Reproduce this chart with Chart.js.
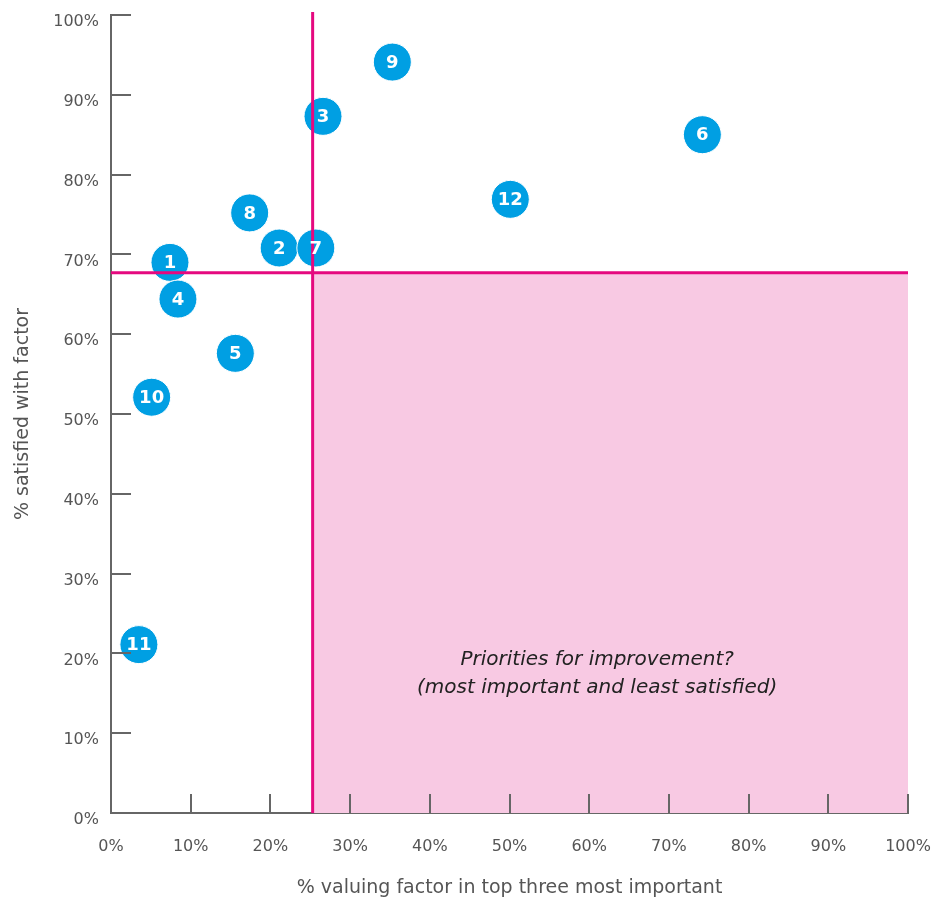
<!DOCTYPE html>
<html>
<head>
<meta charset="utf-8">
<script src="https://cdn.jsdelivr.net/npm/chart.js@4"></script>
<style>
  html, body { margin: 0; padding: 0; background: #fff; overflow: hidden; }
  #wrap { width: 935px; height: 904px; margin-top: -5px; }
</style>
</head>
<body>
<div id="wrap"><canvas id="chart" width="935" height="904"></canvas></div>
<script>
// factor id, % valuing factor in top three, % satisfied with factor
const factorIds = ['1', '2', '3', '4', '5', '6', '7', '8', '9', '10', '11', '12'];
const importance = [7.4, 21.1, 26.6, 8.4, 15.6, 74.2, 25.7, 17.4, 35.3, 5.1, 3.5, 50.1];
const satisfaction = [69.0, 70.8, 87.3, 64.4, 57.6, 85.0, 70.8, 75.2, 94.1, 52.1, 21.1, 76.9];

const importanceCut = 25.3;
const satisfactionCut = 67.7;
const zoneText = ['Priorities for improvement?', '(most important and least satisfied)'];
const zoneTextAt = [61, 17.5];

const FONT = '"DejaVu Sans", sans-serif';
const PINK = '#e5097f';
const AXIS = '#666666';

const ctx = document.getElementById('chart').getContext('2d');

const quadrant = {
    id: 'quadrant',
    beforeDatasetsDraw(chart) {
        const { ctx, scales: { x, y } } = chart;
        const x0 = x.getPixelForValue(importanceCut), x1 = x.getPixelForValue(100);
        const y0 = y.getPixelForValue(satisfactionCut), y1 = y.getPixelForValue(0);
        ctx.save();
        ctx.fillStyle = '#f8c9e3';
        ctx.fillRect(x0, y0, x1 - x0, y1 - y0);
        ctx.fillStyle = '#222';
        ctx.font = 'italic 20px ' + FONT;
        ctx.textAlign = 'center';
        ctx.textBaseline = 'middle';
        const tx = x.getPixelForValue(zoneTextAt[0]);
        const ty = y.getPixelForValue(zoneTextAt[1]);
        ctx.fillText(zoneText[0], tx, ty - 14);
        ctx.fillText(zoneText[1], tx, ty + 14);
        ctx.restore();
    },
    afterDatasetsDraw(chart) {
        const { ctx, scales: { x, y } } = chart;
        ctx.save();
        // inward tick marks
        ctx.strokeStyle = AXIS;
        ctx.lineWidth = 2;
        const yb = y.getPixelForValue(0), xl = x.getPixelForValue(0);
        x.ticks.forEach(t => {
            const px = Math.round(x.getPixelForValue(t.value));
            ctx.beginPath(); ctx.moveTo(px, yb); ctx.lineTo(px, yb - 19); ctx.stroke();
        });
        y.ticks.forEach(t => {
            const py = Math.round(y.getPixelForValue(t.value));
            ctx.beginPath(); ctx.moveTo(xl, py); ctx.lineTo(xl + 20, py); ctx.stroke();
        });
        // pink divider lines
        ctx.strokeStyle = PINK;
        ctx.lineWidth = 3;
        const vx = x.getPixelForValue(importanceCut);
        ctx.beginPath(); ctx.moveTo(vx, y.getPixelForValue(100) - 3); ctx.lineTo(vx, yb); ctx.stroke();
        const hy = y.getPixelForValue(satisfactionCut);
        ctx.beginPath(); ctx.moveTo(xl, hy); ctx.lineTo(x.getPixelForValue(100), hy); ctx.stroke();
        // bubble numbers
        const meta = chart.getDatasetMeta(0);
        ctx.fillStyle = '#fff';
        ctx.font = 'bold 18px ' + FONT;
        ctx.textAlign = 'center';
        ctx.textBaseline = 'middle';
        meta.data.forEach((pt, i) => {
            ctx.fillText(factorIds[i], pt.x, pt.y + 1);
        });
        ctx.restore();
    }
};

new Chart(ctx, {
    type: 'scatter',
    data: {
        datasets: [{
            label: 'Factors',
            data: importance.map((v, i) => ({ x: v, y: satisfaction[i] })),
            backgroundColor: '#009fe3',
            borderColor: '#ffffff',
            borderWidth: 1,
            pointRadius: 19,
            pointHoverRadius: 19,
            clip: false
        }]
    },
    options: {
        responsive: false,
        animation: false,
        layout: { padding: { left: 12, right: 27, top: 10, bottom: 0 } },
        plugins: {
            legend: { display: false },
            tooltip: { enabled: false }
        },
        scales: {
            x: {
                type: 'linear',
                min: 0, max: 100,
                afterFit: s => { s.height = 86; s.paddingLeft = 0; s.paddingRight = 0; },
                grid: { display: false, drawTicks: false },
                border: { display: true, color: AXIS, width: 2 },
                ticks: {
                    stepSize: 10,
                    padding: 24,
                    color: '#555',
                    font: { family: FONT, size: 16 },
                    callback: v => v + '%'
                },
                title: {
                    display: true,
                    text: '% valuing factor in top three most important',
                    color: '#555',
                    font: { family: FONT, size: 19 },
                    padding: { top: 10, bottom: 0 }
                }
            },
            y: {
                type: 'linear',
                min: 0, max: 100,
                afterFit: s => { s.width = 99; s.paddingTop = 0; s.paddingBottom = 0; },
                grid: { display: false, drawTicks: false },
                border: { display: true, color: AXIS, width: 2 },
                ticks: {
                    stepSize: 10,
                    padding: 12,
                    labelOffset: 7,
                    color: '#555',
                    font: { family: FONT, size: 16 },
                    callback: v => v + '%'
                },
                title: {
                    display: true,
                    text: '% satisfied with factor',
                    color: '#555',
                    font: { family: FONT, size: 19 },
                    padding: { top: 0, bottom: 10 }
                }
            }
        }
    },
    plugins: [quadrant]
});
</script>
</body>
</html>
